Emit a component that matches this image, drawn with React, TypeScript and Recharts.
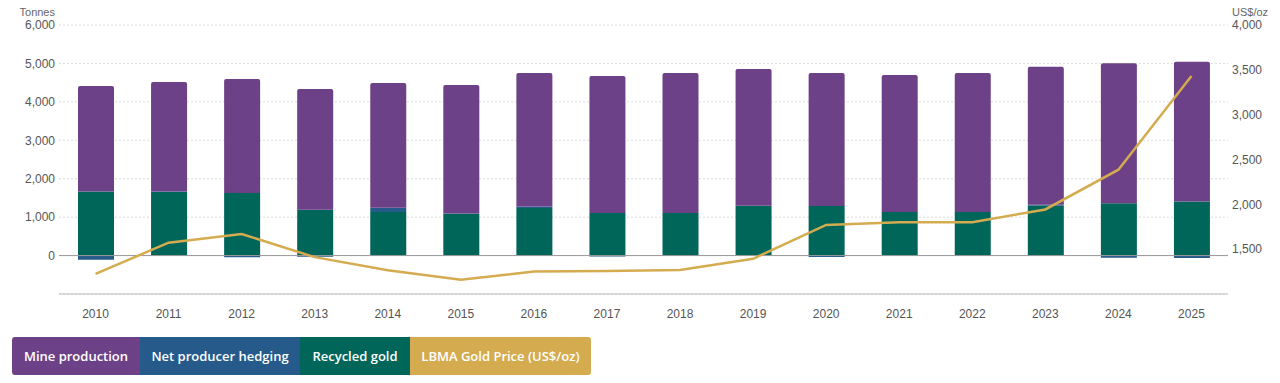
import {
  ComposedChart,
  Bar,
  Line,
  XAxis,
  YAxis,
  CartesianGrid,
  ReferenceLine,
} from "recharts";

const years = [
  "2010", "2011", "2012", "2013", "2014", "2015", "2016", "2017",
  "2018", "2019", "2020", "2021", "2022", "2023", "2024", "2025",
];
const mineProduction = [
  2749, 2850, 2965, 3145, 3244, 3341, 3478, 3563,
  3641, 3557, 3459, 3563, 3615, 3595, 3642, 3640,
];
const netHedging = [
  -106, 11, -45, -28, 110, 13, 33, -26,
  -12, 6, -39, -6, -13, 20, -57, -60,
];
const recycledGold = [
  1665, 1657, 1631, 1190, 1137, 1085, 1241, 1111,
  1111, 1293, 1293, 1137, 1137, 1300, 1362, 1406,
];
const goldPrice = [
  1225, 1572, 1669, 1411, 1266, 1160, 1251, 1257,
  1268, 1393, 1770, 1799, 1800, 1943, 2386, 3432,
];

const leftTicks = [0, 1000, 2000, 3000, 4000, 5000, 6000];
const rightTicks = [1500, 2000, 2500, 3000, 3500, 4000];

const COLORS = {
  mine: "#6d4187",
  hedging: "#255a8b",
  recycled: "#00665a",
  price: "#d5ab4f",
};

const legendItems = [
  { label: "Mine production", color: COLORS.mine, width: 128 },
  { label: "Net producer hedging", color: COLORS.hedging, width: 160 },
  { label: "Recycled gold", color: COLORS.recycled, width: 110 },
  { label: "LBMA Gold Price (US$/oz)", color: COLORS.price, width: 181 },
];

const chartData = years.map((year, i) => ({
  year,
  mine: mineProduction[i],
  hedging: netHedging[i],
  recycled: recycledGold[i],
  price: goldPrice[i],
}));

const fmt = (v: number) => v.toLocaleString("en-US");
const tickStyle = { fontSize: 12, fill: "#555", fontFamily: "Liberation Sans, Arial, sans-serif" };

export default function App() {
  return (
    <div
      style={{
        position: "absolute",
        top: 0,
        left: 0,
        width: 1280,
        height: 383,
        background: "#fff",
        fontFamily: "Liberation Sans, Arial, sans-serif",
      }}
    >
      <div
        style={{
          position: "absolute",
          top: 6,
          right: 1225,
          fontSize: 11,
          color: "#666",
          textAlign: "right",
        }}
      >
        Tonnes
      </div>
      <div style={{ position: "absolute", top: 6, left: 1232, fontSize: 11, color: "#666" }}>
        US$/oz
      </div>
      <ComposedChart
        width={1280}
        height={330}
        data={chartData}
        stackOffset="sign"
        barCategoryGap={0}
        margin={{ top: 25, right: 0, left: 0, bottom: 6 }}
      >
        <CartesianGrid
          yAxisId="left"
          vertical={false}
          stroke="#dcdcdc"
          strokeDasharray="2 2"
        />
        <XAxis
          dataKey="year"
          height={30}
          tick={tickStyle}
          tickLine={false}
          tickMargin={9}
          axisLine={{ stroke: "#bbb" }}
        />
        <YAxis
          yAxisId="left"
          width={59}
          domain={[-1000, 6000]}
          ticks={leftTicks}
          tickFormatter={fmt}
          tick={tickStyle}
          tickLine={false}
          tickSize={0}
          tickMargin={4}
          axisLine={false}
        />
        <YAxis
          yAxisId="right"
          orientation="right"
          width={52}
          domain={[1000, 4000]}
          ticks={rightTicks}
          tickFormatter={fmt}
          tick={tickStyle}
          tickLine={false}
          tickSize={0}
          tickMargin={4}
          axisLine={false}
        />
        <ReferenceLine yAxisId="left" y={0} stroke="#999" />
        <Bar
          yAxisId="left"
          dataKey="recycled"
          stackId="a"
          fill={COLORS.recycled}
          barSize={36}
          isAnimationActive={false}
        />
        <Bar
          yAxisId="left"
          dataKey="hedging"
          stackId="a"
          fill={COLORS.hedging}
          barSize={36}
          isAnimationActive={false}
        />
        <Bar
          yAxisId="left"
          dataKey="mine"
          stackId="a"
          fill={COLORS.mine}
          barSize={36}
          radius={[2, 2, 0, 0]}
          isAnimationActive={false}
        />
        <Line
          yAxisId="right"
          type="linear"
          dataKey="price"
          stroke={COLORS.price}
          strokeWidth={2.5}
          dot={false}
          activeDot={false}
          isAnimationActive={false}
        />
      </ComposedChart>
      <div
        style={{
          position: "absolute",
          top: 337,
          left: 12,
          display: "flex",
          height: 38,
          borderRadius: 3,
          overflow: "hidden",
        }}
      >
        {legendItems.map((item) => (
          <div
            key={item.label}
            style={{
              width: item.width,
              height: 38,
              background: item.color,
              color: "#fff",
              fontFamily: "'Open Sans', 'Noto Sans', sans-serif",
              fontWeight: 600,
              fontSize: 13,
              display: "flex",
              alignItems: "center",
              justifyContent: "center",
              whiteSpace: "nowrap",
            }}
          >
            {item.label}
          </div>
        ))}
      </div>
    </div>
  );
}
